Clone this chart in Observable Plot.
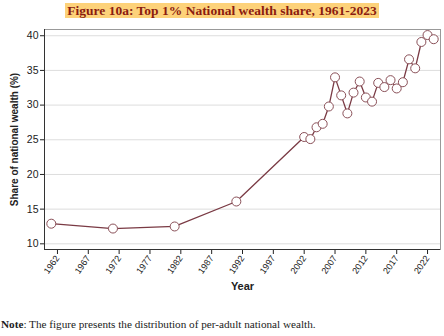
<!DOCTYPE html>
<html><head><meta charset="utf-8">
<script src="https://cdn.jsdelivr.net/npm/d3@7"></script>
<script src="https://cdn.jsdelivr.net/npm/@observablehq/plot@0.6"></script>
<style>
body{margin:0;background:#fff;width:444px;height:336px;overflow:hidden;position:relative;}
#title{position:absolute;top:1px;left:0;width:444px;text-align:center;}
#title span{background:#fdd27a;color:#8b1c10;font-family:"Liberation Serif",serif;font-weight:bold;font-size:13.5px;padding:0 2px;}
#chart{position:absolute;top:0;left:0;}
#note{position:absolute;top:318px;left:1px;font-family:"Liberation Serif",serif;font-size:11.2px;color:#222;}
</style></head><body>
<div id="chart"></div>
<div id="title"><span>Figure 10a: Top 1% National wealth share, 1961-2023</span></div>
<div id="note"><b>Note</b>: The figure presents the distribution of per-adult national wealth.</div>
<script>
const years = [1961,1971,1981,1991,2002,2003,2004,2005,2006,2007,2008,2009,2010,2011,2012,2013,2014,2015,2016,2017,2018,2019,2020,2021,2022,2023];
const shares = [12.9,12.2,12.5,16.1,25.4,25.1,26.8,27.3,29.8,34.0,31.4,28.8,31.8,33.4,31.1,30.5,33.2,32.6,33.6,32.4,33.3,36.6,35.3,39.1,40.1,39.5];
const xTicks = [1962,1967,1972,1977,1982,1987,1992,1997,2002,2007,2012,2017,2022];
const yTicks = [10,15,20,25,30,35,40];
const data = years.map((y,i)=>({year:y, share:shares[i]}));
const lineColor = "#7a3a44";
const chart = Plot.plot({
  width:444, height:336,
  marginTop:29, marginBottom:87, marginLeft:44, marginRight:4,
  style:{fontFamily:"'Liberation Sans', Arial, sans-serif", fontSize:"10px", color:"#222", background:"transparent"},
  x:{domain:[1959.9,2024.1]},
  y:{domain:[9.18,40.9]},
  marks:[
    Plot.gridY(yTicks,{stroke:"#ddd", strokeOpacity:1}),
    Plot.frame({stroke:"#999"}),
    Plot.axisY(yTicks,{tickSize:4, tickPadding:2, label:null, fontSize:10.5}),
    Plot.axisX(xTicks,{tickSize:5, tickRotate:-55, tickFormat:d=>String(d), label:null, fontSize:9, tickPadding:2}),
    Plot.ruleX([1959.9],{stroke:"#333"}),
    Plot.ruleY([9.18],{stroke:"#333"}),
    Plot.line(data,{x:"year", y:"share", stroke:lineColor, strokeWidth:1.3}),
    Plot.dot(data,{x:"year", y:"share", r:4.5, fill:"white", stroke:"#8a5058", strokeWidth:1}),
    Plot.text(["Year"],{frameAnchor:"bottom", dy:40, fontWeight:"bold", fontSize:11}),
    Plot.text(["Share of national wealth (%)"],{frameAnchor:"left", textAnchor:"middle", dx:-30, rotate:-90, fontWeight:"bold", fontSize:10})
  ]
});
document.getElementById("chart").appendChild(chart);
</script>
</body></html>
